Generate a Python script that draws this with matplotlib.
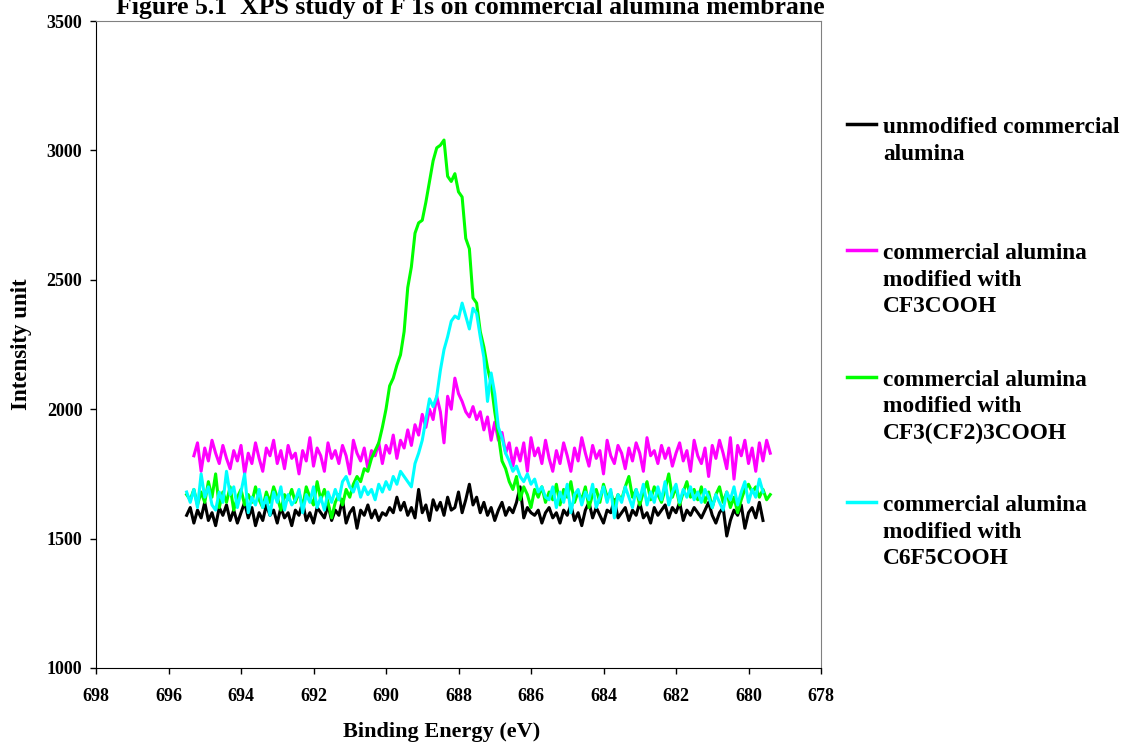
import numpy as np
import matplotlib
matplotlib.use("Agg")
import matplotlib.pyplot as plt
from matplotlib.lines import Line2D

plt.rcParams["font.family"] = ["Liberation Serif", "DejaVu Serif"]
plt.rcParams["font.weight"] = "bold"

TITLE = "Figure 5.1  XPS study of F 1s on commercial alumina membrane"
X_LABEL = "Binding Energy (eV)"
Y_LABEL = "Intensity unit"
X_TICKS = [698, 696, 694, 692, 690, 688, 686, 684, 682, 680, 678]
Y_TICKS = [1000, 1500, 2000, 2500, 3000, 3500]

LABELS = [
    ["unmodified commercial", "alumina"],
    ["commercial alumina", "modified with", "CF3COOH"],
    ["commercial alumina", "modified with", "CF3(CF2)3COOH"],
    ["commercial alumina", "modified with", "C6F5COOH"],
]
COLORS = ["#000000", "#FF00FF", "#00FF00", "#00FFFF"]

# counts, one row per eV, 0.1 eV apart
black_counts = [
    1590, 1620, 1560, 1610, 1580, 1640, 1570, 1600, 1550, 1620,
    1590, 1630, 1570, 1610, 1560, 1600, 1640, 1580, 1620, 1550,
    1600, 1570, 1630, 1590, 1610, 1560, 1620, 1580, 1600, 1550,
    1610, 1590, 1640, 1570, 1600, 1560, 1620, 1600, 1580, 1630,
    1570, 1610, 1590, 1650, 1560, 1600, 1620, 1540, 1610, 1590,
    1630, 1580, 1610, 1570, 1600, 1590, 1620, 1600, 1660, 1610,
    1640, 1590, 1620, 1580, 1690, 1600, 1630, 1570, 1650, 1610,
    1640, 1590, 1660, 1610, 1620, 1680, 1600, 1650, 1710, 1630,
    1660, 1600, 1640, 1590, 1620, 1570, 1610, 1640, 1590, 1620,
    1600, 1640, 1700, 1580, 1620, 1600, 1590, 1610, 1560, 1600,
    1620, 1580, 1600, 1560, 1610, 1590, 1630, 1570, 1600, 1550,
    1610, 1640, 1580, 1620, 1590, 1560, 1610, 1600, 1650, 1580,
    1600, 1620, 1570, 1610, 1590, 1640, 1580, 1600, 1560, 1620,
    1590, 1610, 1630, 1580, 1620, 1600, 1640, 1570, 1610, 1590,
    1620, 1600, 1580, 1610, 1640, 1590, 1560, 1600, 1620, 1510,
    1570, 1610, 1590, 1630, 1540, 1600, 1620, 1580, 1640, 1570,
]
magenta_counts = [
    1820, 1870, 1760, 1850, 1800, 1880, 1830, 1790, 1860, 1810,
    1770, 1840, 1800, 1860, 1750, 1830, 1790, 1870, 1810, 1760,
    1850, 1820, 1880, 1790, 1840, 1770, 1860, 1810, 1830, 1750,
    1840, 1800, 1890, 1780, 1850, 1820, 1760, 1870, 1810, 1840,
    1790, 1860, 1820, 1750, 1880, 1830, 1800, 1850, 1770, 1840,
    1820, 1870, 1790, 1860, 1830, 1900, 1810, 1880, 1850, 1920,
    1860, 1940, 1900, 1980, 1930, 2000, 1960, 2050, 1990, 1870,
    2050, 2000, 2120, 2060, 2030, 1990, 1970, 2010, 1960, 1990,
    1920, 1970, 1880, 1950, 1880, 1910, 1830, 1870, 1780, 1850,
    1800, 1870, 1760, 1890, 1820, 1850, 1790, 1880, 1810, 1760,
    1840, 1790, 1870, 1820, 1760, 1850, 1800, 1890, 1830, 1780,
    1860, 1810, 1840, 1750, 1880, 1820, 1790, 1860, 1830, 1770,
    1850, 1800, 1870, 1830, 1760, 1890, 1820, 1840, 1790, 1860,
    1810, 1850, 1780, 1830, 1870, 1800, 1840, 1760, 1880, 1820,
    1790, 1850, 1740, 1860, 1810, 1880, 1830, 1770, 1890, 1730,
    1860, 1820, 1880, 1790, 1850, 1760, 1870, 1800, 1880, 1830,
]
green_counts = [
    1670, 1650, 1690, 1630, 1680, 1640, 1720, 1660, 1750, 1620,
    1680, 1640, 1700, 1610, 1660, 1690, 1630, 1670, 1640, 1700,
    1650, 1620, 1680, 1640, 1700, 1660, 1610, 1670, 1650, 1690,
    1640, 1680, 1620, 1700, 1660, 1630, 1720, 1650, 1690, 1640,
    1580, 1640, 1670, 1630, 1690, 1660, 1710, 1740, 1720, 1770,
    1760, 1810, 1840, 1870, 1930, 2000, 2090, 2120, 2170, 2210,
    2300, 2470, 2550, 2680, 2720, 2730, 2800, 2880, 2960, 3010,
    3020, 3040, 2900, 2880, 2910, 2840, 2820, 2660, 2620, 2430,
    2410, 2300, 2240, 2160, 2100, 1990, 1900, 1800, 1770, 1720,
    1690, 1740, 1650, 1700, 1670, 1620, 1690, 1660, 1700, 1640,
    1680, 1650, 1710, 1630, 1690, 1660, 1720, 1640, 1680, 1650,
    1700, 1620, 1670, 1690, 1640, 1710, 1660, 1680, 1630, 1670,
    1650, 1700, 1740, 1660, 1690, 1630, 1680, 1720, 1650, 1700,
    1670, 1640, 1690, 1750, 1660, 1700, 1630, 1680, 1720, 1660,
    1690, 1650, 1700, 1640, 1680, 1620, 1670, 1700, 1640, 1680,
    1620, 1660, 1600, 1650, 1690, 1710, 1680, 1700, 1660, 1690, 1650, 1670,
]
cyan_counts = [
    1680, 1640, 1690, 1620, 1750, 1660, 1700, 1630, 1610, 1680,
    1640, 1760, 1670, 1700, 1620, 1680, 1750, 1600, 1660, 1630,
    1690, 1620, 1660, 1590, 1680, 1640, 1700, 1610, 1670, 1630,
    1650, 1690, 1600, 1670, 1640, 1700, 1620, 1660, 1610, 1680,
    1640, 1690, 1650, 1720, 1740, 1700, 1680, 1720, 1660, 1700,
    1670, 1690, 1650, 1710, 1680, 1720, 1690, 1740, 1710, 1760,
    1740, 1720, 1700, 1790, 1830, 1880, 1960, 2040, 2010, 2050,
    2150, 2230, 2280, 2340, 2360, 2350, 2410, 2360, 2310, 2390,
    2370, 2280, 2200, 2030, 2140, 2060, 1930, 1890, 1830, 1800,
    1760, 1780, 1740, 1720, 1750, 1710, 1730, 1680, 1700, 1660,
    1650, 1700, 1620, 1680, 1640, 1710, 1600, 1670, 1690, 1630,
    1680, 1650, 1710, 1620, 1660, 1700, 1640, 1690, 1580, 1670,
    1640, 1700, 1660, 1620, 1690, 1650, 1710, 1630, 1680, 1640,
    1700, 1650, 1720, 1630, 1680, 1710, 1640, 1690, 1660, 1700,
    1650, 1680, 1640, 1690, 1660, 1620, 1670, 1640, 1610, 1680,
    1650, 1700, 1630, 1680, 1720, 1640, 1690, 1660, 1730, 1680,
]

# energy grids (first and last channel)
black_ev = np.linspace(695.5, 679.6, len(black_counts))
magenta_ev = np.linspace(695.3, 679.4, len(magenta_counts))
green_ev = np.linspace(695.5, 679.4, len(green_counts))
cyan_ev = np.linspace(695.5, 679.6, len(cyan_counts))

series = [
    (black_ev, black_counts),
    (magenta_ev, magenta_counts),
    (green_ev, green_counts),
    (cyan_ev, cyan_counts),
]

W, H = 1127, 747
fig = plt.figure(figsize=(W / 100, H / 100), dpi=100)
ax = fig.add_axes([96 / W, 1 - 668 / H, (821 - 96) / W, (668 - 21) / H])

for (ev, counts), color in zip(series, COLORS):
    ax.plot(ev, counts, color=color, lw=2.2, solid_joinstyle="round")

ax.set_xlim(698, 678)
ax.set_ylim(1000, 3500)
ax.set_xticks(X_TICKS)
ax.set_yticks(Y_TICKS)
ax.tick_params(direction="out", length=4.3, width=1, labelsize=13)
ax.tick_params(axis="x", pad=10)
ax.tick_params(axis="y", pad=5.5)
for lab in ax.get_xticklabels() + ax.get_yticklabels():
    lab.set_fontweight("bold")
for side in ("top", "right"):
    ax.spines[side].set_color("#808080")
ax.spines["left"].set_color("black")
ax.spines["bottom"].set_color("black")

ax.set_xlabel(X_LABEL, fontsize=16, fontweight="bold")
ax.set_ylabel(Y_LABEL, fontsize=16.5, fontweight="bold")
ax.xaxis.set_label_coords((442 - 96) / 725, -(722 - 668) / 647)
ax.yaxis.set_label_coords((32 - 96) / 725, 0.5)

fig.text(470 / W, 1 - 14 / H, TITLE, ha="center", va="baseline",
         fontsize=18.5, fontweight="bold")

# legend at the right, handle level with the first text line
entry_y = [124, 250, 377, 502]
for lines, color, y in zip(LABELS, COLORS, entry_y):
    fig.add_artist(Line2D([847 / W, 876 / W], [1 - y / H, 1 - y / H],
                          color=color, lw=2.5, transform=fig.transFigure))
    for k, line in enumerate(lines):
        fig.text(883 / W, 1 - (y + 9 + 26.5 * k) / H, line, ha="left",
                 va="baseline", fontsize=16.8, fontweight="bold")

fig.savefig("out.png", dpi=100)
